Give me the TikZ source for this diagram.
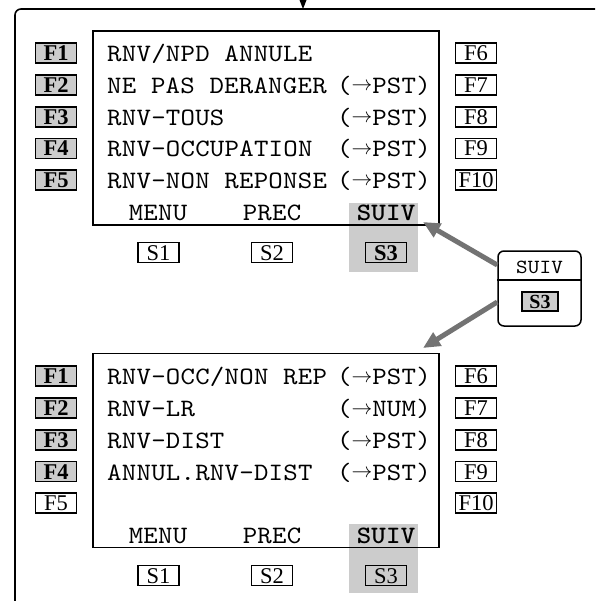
\documentclass[tikz,border=0pt]{standalone}
\usepackage{fontspec}
\setmainfont{Liberation Serif}
\newfontfamily\scrmono{lmmono10-regular}[Extension=.otf,
  BoldFont=lmmonolt10-bold, FakeStretch=1.1, LetterSpace=1]
\usetikzlibrary{arrows.meta}
\definecolor{keygray}{gray}{0.8}
\definecolor{linkgray}{gray}{0.45}
\newcommand\scrfont{\fontsize{25}{26}\selectfont\scrmono}
\newcommand\keyfont{\fontsize{22.5}{23}\selectfont\rmfamily}
\newcommand\scrarrow{\raisebox{2.5pt}{\fontsize{20}{20}\selectfont$\rightarrow$}}
\newcommand\topst{(\scrarrow PST)}
\newcommand\tonum{(\scrarrow NUM)}
\tikzset{
  key/.style={draw, line width=1.4pt, inner sep=0pt, minimum width=41pt,
    minimum height=20pt, text height=15pt, text depth=0pt, font=\keyfont},
  keyon/.style={key, fill=keygray, font=\keyfont\bfseries},
  scrtext/.style={inner sep=0pt, anchor=base west, font=\scrfont},
  scrtag/.style={inner sep=0pt, anchor=base east, font=\scrfont},
  softlabel/.style={inner sep=0pt, anchor=base, font=\scrfont},
  screen/.style={draw, line width=1.6pt, minimum width=346pt, minimum height=194pt},
  link/.style={draw=linkgray, line width=5pt, -{Triangle[width=15pt,length=17pt]}},
}
\begin{document}
\begin{tikzpicture}[x=1pt,y=-1pt]
	\useasboundingbox (0,0) rectangle (595,601);
	% outer frame
	\draw[line width=1.6pt, rounded corners=6pt] (15,601) -- (15,9) -- (595,9);
	\fill (299.5,0) -- (306.5,0) -- (303,9) -- cycle;
	% first page
	\begin{scope}
		\fill[keygray] (349,203) rectangle (418,272);
		\node[screen] (u-screen) at (266,128) {};
		\node[keyon] (u-f1) at (56,53) {F1};
		\node[keyon] (u-f2) at (56,85) {F2};
		\node[keyon] (u-f3) at (56,117) {F3};
		\node[keyon] (u-f4) at (56,148.5) {F4};
		\node[keyon] (u-f5) at (56,180) {F5};
		\node[key] (u-f6) at (476,53) {F6};
		\node[key] (u-f7) at (476,85) {F7};
		\node[key] (u-f8) at (476,117) {F8};
		\node[key] (u-f9) at (476,148.5) {F9};
		\node[key] (u-f10) at (476,180) {F10};
		\node[scrtext] (u-l1) at (107,61.5) {RNV/NPD ANNULE};
		\node[scrtext] (u-l2) at (107,93.5) {NE PAS DERANGER};
		\node[scrtag] (u-t2) at (431,93.5) {\topst};
		\node[scrtext] (u-l3) at (107,125.5) {RNV-TOUS};
		\node[scrtag] (u-t3) at (431,125.5) {\topst};
		\node[scrtext] (u-l4) at (107,157) {RNV-OCCUPATION};
		\node[scrtag] (u-t4) at (431,157) {\topst};
		\node[scrtext] (u-l5) at (107,188.5) {RNV-NON REPONSE};
		\node[scrtag] (u-t5) at (431,188.5) {\topst};
		\node[softlabel] (u-menu) at (158,220.5) {MENU};
		\node[softlabel] (u-prec) at (272,220.5) {PREC};
		\node[softlabel, font=\scrfont\bfseries] (u-suiv) at (386,220.5) {SUIV};
		\node[key] (u-s1) at (158.5,252.5) {S1};
		\node[key] (u-s2) at (272,252.5) {S2};
		\node[keyon] (u-s3) at (386,252.5) {S3};
	\end{scope}
	% second page
	\begin{scope}[shift={(0,323)}]
		\fill[keygray] (349,201) rectangle (418,270);
		\node[screen] (l-screen) at (266,127.5) {};
		\node[keyon] (l-f1) at (56,53) {F1};
		\node[keyon] (l-f2) at (56,85) {F2};
		\node[keyon] (l-f3) at (56,117) {F3};
		\node[keyon] (l-f4) at (56,148.5) {F4};
		\node[key] (l-f5) at (56,180) {F5};
		\node[key] (l-f6) at (476,53) {F6};
		\node[key] (l-f7) at (476,85) {F7};
		\node[key] (l-f8) at (476,117) {F8};
		\node[key] (l-f9) at (476,148.5) {F9};
		\node[key] (l-f10) at (476,180) {F10};
		\node[scrtext] (l-l1) at (107,61.5) {RNV-OCC/NON REP};
		\node[scrtag] (l-t1) at (431,61.5) {\topst};
		\node[scrtext] (l-l2) at (107,93.5) {RNV-LR};
		\node[scrtag] (l-t2) at (431,93.5) {\tonum};
		\node[scrtext] (l-l3) at (107,125.5) {RNV-DIST};
		\node[scrtag] (l-t3) at (431,125.5) {\topst};
		\node[scrtext] (l-l4) at (107,157) {ANNUL.RNV-DIST};
		\node[scrtag] (l-t4) at (431,157) {\topst};
		\node[softlabel] (l-menu) at (158,220.5) {MENU};
		\node[softlabel] (l-prec) at (272,220.5) {PREC};
		\node[softlabel, font=\scrfont\bfseries] (l-suiv) at (386,220.5) {SUIV};
		\node[key] (l-s1) at (158.5,252.5) {S1};
		\node[key] (l-s2) at (272,252.5) {S2};
		\node[key, fill=keygray] (l-s3) at (386,252.5) {S3};
	\end{scope}
	% the SUIV key
	\node[draw, line width=1.5pt, rounded corners=6pt, inner sep=0pt,
		minimum width=83pt, minimum height=75pt] (side) at (539.5,288.5) {};
	\coordinate (side-div) at (539.5,280);
	\draw[line width=1.5pt] (side.west |- side-div) -- (side.east |- side-div);
	\node[inner sep=0pt, anchor=base, font=\fontsize{20}{20}\selectfont\scrmono]
		(side-suiv) at (539.5,273.5) {SUIV};
	\node[keyon, minimum width=36pt, minimum height=19pt, text height=13.5pt,
		font=\fontsize{20}{20}\selectfont\rmfamily\bfseries] (side-s3) at (540,301.5) {S3};
	% links
	\coordinate (u-tip) at (423,222);
	\coordinate (l-tip) at (423,348);
	\coordinate (side-up) at (498,265);
	\coordinate (side-down) at (498,302);
	\draw[link] (side.west |- side-up) -- (u-tip);
	\draw[link] (side.west |- side-down) -- (l-tip);
\end{tikzpicture}
\end{document}
